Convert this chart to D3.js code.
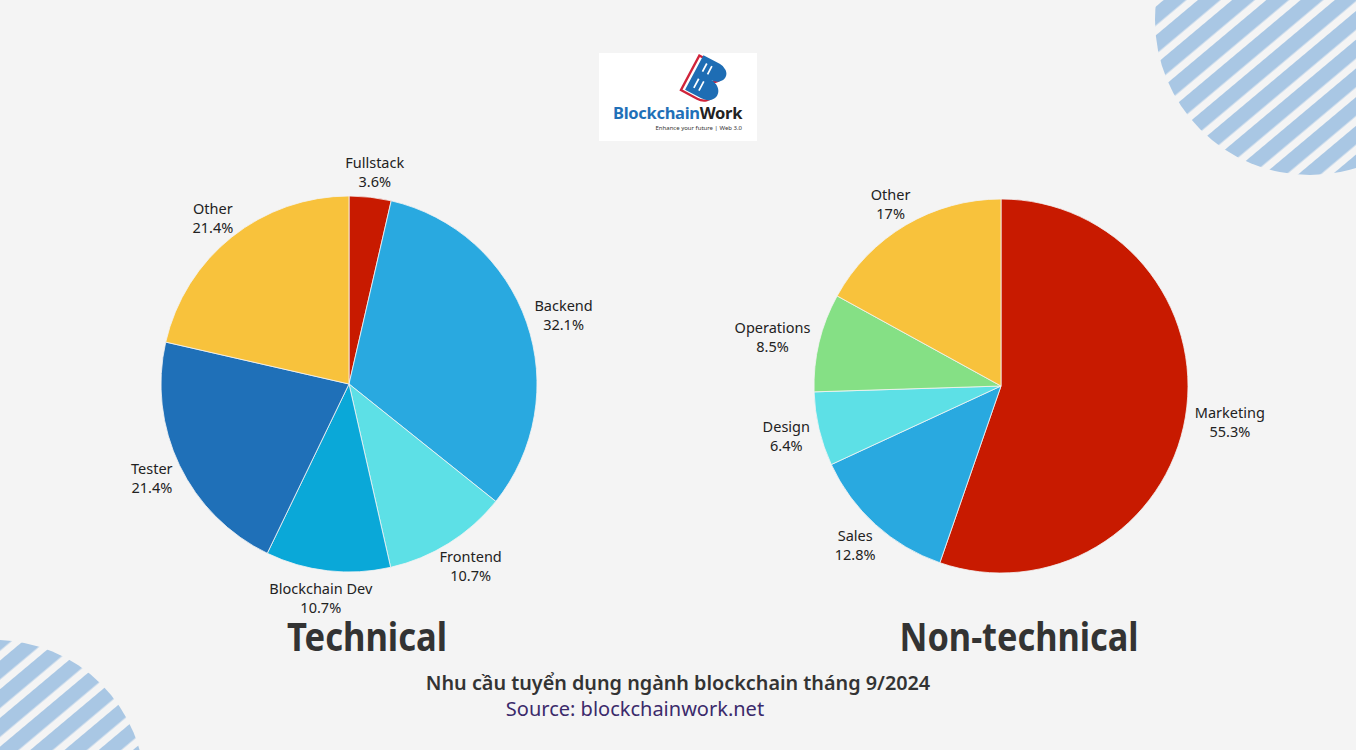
<!DOCTYPE html>
<html>
<head>
<meta charset="utf-8">
<script src="https://cdn.jsdelivr.net/npm/d3@7"></script>
<style>
  html, body { margin: 0; padding: 0; background: #f4f4f4; }
  svg { display: block; font-family: "Noto Sans", "Open Sans", sans-serif; }
</style>
</head>
<body>
<div id="chart"></div>
<script>
// Technical roles
const techRoles = ['Fullstack', 'Backend', 'Frontend', 'Blockchain Dev', 'Tester', 'Other'];
const techShares = [3.6, 32.1, 10.7, 10.7, 21.4, 21.4];
const techColors = ['#c81a00', '#29a9e0', '#5de0e6', '#0aa8d8', '#1f70b8', '#f8c23c'];

// Non-technical roles
const nonTechRoles = ['Marketing', 'Sales', 'Design', 'Operations', 'Other'];
const nonTechShares = [55.3, 12.8, 6.4, 8.5, 17];
const nonTechColors = ['#c81a00', '#29a9e0', '#5de0e6', '#85e085', '#f8c23c'];

const width = 1356, height = 750;

const svg = d3.select('#chart').append('svg')
  .attr('width', width)
  .attr('height', height);

svg.append('rect')
  .attr('width', width)
  .attr('height', height)
  .attr('fill', '#f4f4f4');

// striped corner circles
const defs = svg.append('defs');
const pat = defs.append('pattern')
  .attr('id', 'stripes')
  .attr('patternUnits', 'userSpaceOnUse')
  .attr('width', 22)
  .attr('height', 22)
  .attr('patternTransform', 'rotate(-40)');
pat.append('rect').attr('width', 22).attr('height', 22).attr('fill', '#f4f4f4');
pat.append('rect').attr('width', 22).attr('height', 14.5).attr('fill', '#a9c7e4');

svg.append('circle').attr('cx', 1310).attr('cy', 20).attr('r', 155).attr('fill', 'url(#stripes)');
svg.append('circle').attr('cx', -5).attr('cy', 790).attr('r', 150).attr('fill', 'url(#stripes)');

// logo
const logo = svg.append('g').attr('transform', 'translate(599,53)');
logo.append('rect').attr('width', 158).attr('height', 88).attr('fill', '#ffffff');
const icon = logo.append('g').attr('transform', 'translate(110,26) rotate(28) scale(1.15)');
icon.append('path')
  .attr('d', 'M-14,-16 h16 a10,8 0 0 1 0,16 a11,9 0 0 1 0,18 h-16 z')
  .attr('fill', 'none').attr('stroke', '#d0243a').attr('stroke-width', 2)
  .attr('transform', 'translate(-3,2)');
icon.append('path')
  .attr('d', 'M-14,-16 h16 a10,8 0 0 1 0,16 a11,9 0 0 1 0,18 h-16 z')
  .attr('fill', '#1e6db4');
icon.append('path')
  .attr('d', 'M-8,-11 v8 M-3,-11 v8 M-8,4 v9 M-3,4 v9')
  .attr('stroke', '#ffffff').attr('stroke-width', 1.5);
logo.append('text')
  .attr('x', 14).attr('y', 66)
  .attr('font-size', 16.5).attr('font-weight', 700)
  .attr('letter-spacing', -0.3)
  .html('<tspan fill="#1f70b8">Blockchain</tspan><tspan fill="#222">Work</tspan>');
logo.append('text')
  .attr('x', 143).attr('y', 77)
  .attr('text-anchor', 'end')
  .attr('font-size', 6)
  .attr('fill', '#333')
  .text('Enhance your future | Web 3.0');

function drawPie(cx, cy, radius, names, values, colors, title, titleW) {
  const data = names.map((n, i) => ({ name: n, value: values[i], color: colors[i] }));
  const pie = d3.pie().sort(null).value(d => d.value);
  const arc = d3.arc().innerRadius(0).outerRadius(radius);
  const ring = radius + 10;

  const g = svg.append('g').attr('transform', `translate(${cx},${cy})`);

  g.selectAll('path.slice')
    .data(pie(data))
    .enter()
    .append('path')
    .attr('class', 'slice')
    .attr('d', arc)
    .attr('fill', d => d.data.color)
    .attr('stroke', '#f4f4f4')
    .attr('stroke-width', 0.8);

  const labels = g.selectAll('text.label')
    .data(pie(data))
    .enter()
    .append('text')
    .attr('class', 'label')
    .attr('text-anchor', 'middle')
    .attr('font-size', 14.5)
    .attr('fill', '#222');
  labels.append('tspan').attr('x', 0).attr('y', -4).text(d => d.data.name);
  labels.append('tspan').attr('x', 0).attr('y', 15).text(d => `${d.data.value}%`);

  // push each label out so its box just clears the ring
  labels.attr('transform', function (d) {
    const a = (d.startAngle + d.endAngle) / 2;
    const halfW = this.getBBox().width / 2;
    const halfH = 16;
    const x = (ring + halfW) * Math.sin(a);
    const y = -(ring + halfH) * Math.cos(a) + 1;
    return `translate(${x},${y})`;
  });

  svg.append('text')
    .attr('x', cx + 18)
    .attr('y', 651)
    .attr('text-anchor', 'middle')
    .attr('font-size', 39)
    .attr('font-weight', 700)
    .attr('fill', '#333')
    .attr('textLength', titleW)
    .attr('lengthAdjust', 'spacingAndGlyphs')
    .text(title);
}

drawPie(349, 384, 188, techRoles, techShares, techColors, 'Technical', 160);
drawPie(1001, 386, 187, nonTechRoles, nonTechShares, nonTechColors, 'Non-technical', 239);

svg.append('text')
  .attr('x', 678).attr('y', 690)
  .attr('text-anchor', 'middle')
  .attr('font-size', 19.8)
  .attr('font-weight', 600)
  .attr('fill', '#333')
  .text('Nhu cầu tuyển dụng ngành blockchain tháng 9/2024');

svg.append('text')
  .attr('x', 635).attr('y', 716)
  .attr('text-anchor', 'middle')
  .attr('font-size', 20)
  .attr('fill', '#3b2a6b')
  .text('Source: blockchainwork.net');
</script>
</body>
</html>
